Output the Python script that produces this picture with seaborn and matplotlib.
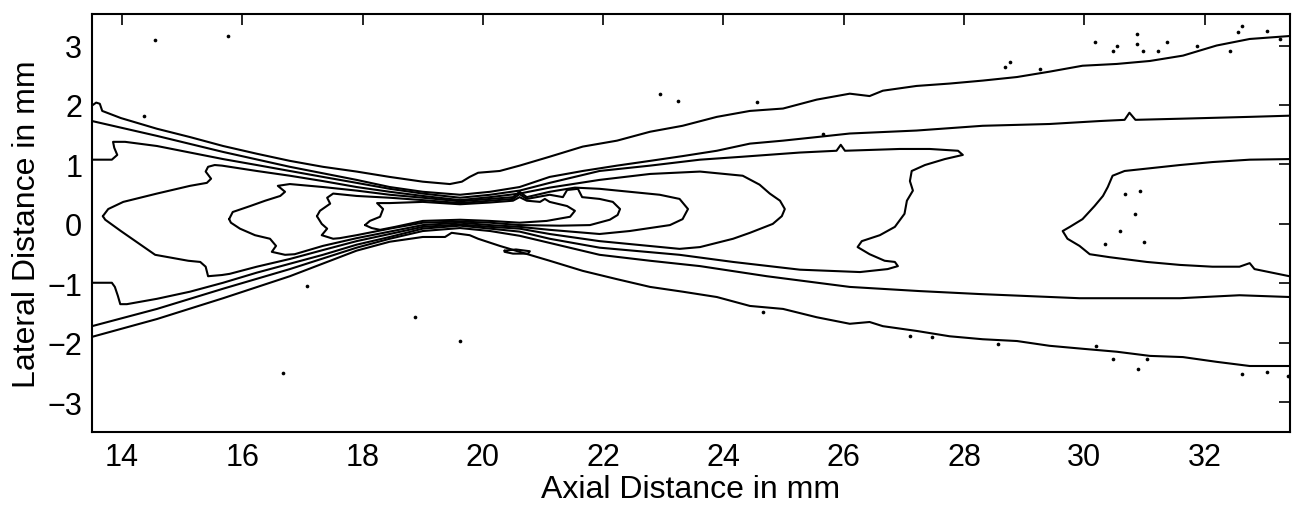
import matplotlib
matplotlib.use("Agg")
import matplotlib.pyplot as plt
import pandas as pd
import seaborn as sns

# ---------------- data (mm) ----------------
x_ticks = [14, 16, 18, 20, 22, 24, 26, 28, 30, 32]
y_ticks = [-3, -2, -1, 0, 1, 2, 3]

# level A (outermost) - two open branches
a_up_x = [13.50, 13.57, 13.63, 13.67, 13.98, 14.58, 15.13, 15.68, 16.24, 16.79,
          17.34, 17.90, 18.45, 19.00, 19.45, 19.65, 19.78, 19.92, 20.28, 20.61,
          21.11, 21.66, 22.23, 22.78, 23.32, 23.89, 24.44, 24.99, 25.55, 26.10,
          26.43, 26.65, 27.21, 27.76, 28.31, 28.88, 29.42, 29.97, 30.54, 31.09,
          31.64, 32.20, 32.75, 33.42]
a_up_y = [1.99, 2.04, 2.02, 1.90, 1.78, 1.60, 1.46, 1.31, 1.18, 1.06,
          0.96, 0.88, 0.79, 0.71, 0.67, 0.71, 0.79, 0.86, 0.89, 0.98,
          1.13, 1.30, 1.40, 1.55, 1.65, 1.80, 1.90, 1.94, 2.09, 2.19,
          2.15, 2.24, 2.32, 2.36, 2.41, 2.47, 2.56, 2.66, 2.69, 2.74,
          2.83, 3.00, 3.11, 3.16]
a_lo_x = [13.50, 14.58, 15.68, 16.79, 17.90, 18.45, 19.00, 19.37, 19.48, 19.78,
          19.92, 20.28, 20.61, 21.11, 21.66, 22.23, 22.78, 23.32, 23.89, 24.44,
          24.99, 25.55, 26.10, 26.43, 26.65, 27.21, 27.76, 28.31, 28.88, 29.42,
          29.97, 30.54, 31.09, 31.64, 32.20, 32.75, 33.42]
a_lo_y = [-1.90, -1.60, -1.25, -0.88, -0.45, -0.30, -0.22, -0.22, -0.15, -0.19,
          -0.25, -0.37, -0.47, -0.62, -0.79, -0.93, -1.06, -1.14, -1.23, -1.38,
          -1.43, -1.57, -1.68, -1.65, -1.72, -1.80, -1.89, -1.94, -1.97, -2.05,
          -2.10, -2.15, -2.22, -2.24, -2.32, -2.39, -2.39]

# level B - two open branches
b_up_x = [13.50, 14.58, 15.68, 16.79, 17.90, 18.45, 19.00, 19.62, 20.12, 20.61,
          21.11, 21.66, 22.23, 22.78, 23.32, 23.89, 24.44, 24.99, 25.55, 26.10,
          27.21, 28.31, 29.42, 30.26, 30.67, 30.75, 30.85, 31.64, 32.75, 33.42]
b_up_y = [1.73, 1.48, 1.21, 0.96, 0.74, 0.62, 0.54, 0.49, 0.54, 0.62,
          0.79, 0.89, 0.98, 1.06, 1.14, 1.23, 1.35, 1.40, 1.46, 1.52,
          1.57, 1.65, 1.68, 1.73, 1.75, 1.87, 1.75, 1.77, 1.80, 1.82]
b_lo_x = [13.50, 14.58, 15.68, 16.79, 17.90, 18.45, 19.00, 19.62, 20.12, 20.61,
          21.11, 21.94, 22.78, 23.61, 24.72, 26.10, 27.26, 28.26, 29.92, 31.59,
          32.58, 33.42]
b_lo_y = [-1.72, -1.43, -1.09, -0.76, -0.40, -0.25, -0.12, -0.07, -0.12, -0.20,
          -0.32, -0.52, -0.62, -0.71, -0.88, -1.06, -1.13, -1.18, -1.25, -1.25,
          -1.20, -1.23]

# level C - open at left edge, closes near 28 mm; plus region at the far right
c_x = [13.50, 13.83, 13.92, 13.87, 13.85, 14.05, 14.58, 15.13, 15.68, 16.24,
       16.79, 17.34, 17.90, 18.45, 19.00, 19.62, 20.12, 20.61, 21.11, 21.94,
       22.78, 23.61, 24.32, 25.27, 25.88, 25.95, 26.02, 26.93, 27.43, 27.90,
       27.98, 27.68, 27.35, 27.13, 27.10, 27.15, 27.05, 27.01, 26.85, 26.60,
       26.30, 26.23, 26.43, 26.68, 26.85, 26.90, 26.73, 26.27, 25.27, 24.16,
       23.27, 21.94, 21.11, 20.61, 20.12, 19.62, 19.00, 18.45, 17.90, 17.34,
       16.79, 16.24, 15.68, 15.13, 14.58, 14.08, 13.97, 13.93, 13.88, 13.83,
       13.50]
c_y = [1.08, 1.08, 1.16, 1.28, 1.38, 1.38, 1.31, 1.20, 1.09, 0.99,
       0.89, 0.79, 0.69, 0.59, 0.51, 0.44, 0.49, 0.56, 0.69, 0.89,
       0.98, 1.08, 1.13, 1.20, 1.23, 1.33, 1.23, 1.26, 1.26, 1.23,
       1.16, 1.09, 0.99, 0.89, 0.72, 0.56, 0.39, 0.17, -0.05, -0.19,
       -0.29, -0.39, -0.51, -0.62, -0.64, -0.71, -0.76, -0.81, -0.77, -0.64,
       -0.52, -0.40, -0.25, -0.13, -0.08, -0.03, -0.08, -0.22, -0.35, -0.52,
       -0.67, -0.82, -0.99, -1.14, -1.26, -1.35, -1.35, -1.21, -1.06, -0.99,
       -0.99]
c2_x = [33.41, 32.75, 32.13, 31.59, 31.04, 30.67, 30.47, 30.39, 30.31, 30.17,
        29.97, 29.76, 29.64, 29.72, 29.92, 30.09, 30.42, 31.04, 31.59, 32.13,
        32.58, 32.75, 32.83, 33.41]
c2_y = [1.09, 1.08, 1.04, 0.99, 0.93, 0.89, 0.81, 0.62, 0.47, 0.30,
        0.08, -0.05, -0.12, -0.25, -0.37, -0.51, -0.56, -0.64, -0.69, -0.72,
        -0.72, -0.66, -0.76, -0.88]

# level D - closed
d_x = [13.68, 13.77, 14.02, 14.58, 15.13, 15.41, 15.48, 15.39, 15.43, 15.54,
       15.66, 16.24, 16.79, 17.34, 17.90, 18.45, 19.00, 19.62, 20.12, 20.61,
       21.11, 21.94, 22.78, 23.61, 24.32, 24.60, 24.77, 24.94, 25.02, 24.97,
       24.82, 24.44, 24.16, 23.61, 23.27, 21.94, 21.11, 20.61, 20.12, 19.62,
       19.00, 18.45, 17.90, 17.34, 16.79, 16.24, 15.79, 15.66, 15.43, 15.39,
       15.30, 15.10, 14.55, 13.98, 13.72, 13.68]
d_y = [0.13, 0.25, 0.37, 0.51, 0.64, 0.69, 0.76, 0.88, 0.96, 0.99,
       0.98, 0.89, 0.81, 0.72, 0.62, 0.54, 0.47, 0.40, 0.45, 0.51,
       0.61, 0.74, 0.84, 0.88, 0.81, 0.66, 0.51, 0.39, 0.25, 0.13,
       0.00, -0.15, -0.25, -0.39, -0.42, -0.29, -0.17, -0.08, -0.05, -0.01,
       -0.05, -0.17, -0.29, -0.44, -0.59, -0.72, -0.84, -0.86, -0.88, -0.72,
       -0.64, -0.62, -0.52, -0.12, 0.07, 0.13]

# level E - closed
e_x = [15.78, 15.84, 16.13, 16.38, 16.63, 16.71, 16.59, 16.79, 17.34, 17.90,
       18.45, 19.00, 19.62, 20.12, 20.50, 20.61, 20.73, 21.11, 21.53, 21.94,
       22.44, 22.94, 23.27, 23.41, 23.32, 23.11, 22.44, 21.94, 21.11, 20.61,
       20.12, 19.62, 19.00, 18.45, 17.90, 17.34, 16.87, 16.71, 16.49, 16.56,
       16.46, 16.21, 15.96, 15.81, 15.78]
e_y = [0.08, 0.20, 0.30, 0.39, 0.47, 0.54, 0.64, 0.67, 0.62, 0.56,
       0.49, 0.44, 0.38, 0.42, 0.45, 0.54, 0.45, 0.54, 0.61, 0.59,
       0.54, 0.49, 0.42, 0.25, 0.08, -0.02, -0.12, -0.17, -0.10, -0.05,
       -0.02, 0.02, -0.02, -0.13, -0.24, -0.37, -0.51, -0.52, -0.47, -0.37,
       -0.25, -0.19, -0.08, 0.02, 0.08]

# level F - closed
f_x = [17.24, 17.29, 17.46, 17.41, 17.51, 17.90, 18.45, 19.00, 19.62, 20.12,
       20.50, 20.61, 20.73, 21.11, 21.33, 21.40, 21.58, 21.65, 21.94, 22.16,
       22.28, 22.24, 22.11, 21.78, 21.28, 20.61, 20.12, 19.62, 19.00, 18.45,
       17.90, 17.62, 17.51, 17.32, 17.41, 17.32, 17.24]
f_y = [0.13, 0.22, 0.34, 0.44, 0.51, 0.47, 0.44, 0.40, 0.35, 0.39,
       0.42, 0.50, 0.42, 0.49, 0.45, 0.57, 0.59, 0.45, 0.42, 0.37,
       0.25, 0.15, 0.07, -0.02, -0.03, -0.02, 0.02, 0.04, 0.02, -0.08,
       -0.19, -0.24, -0.25, -0.19, -0.08, 0.00, 0.13]

# level G (innermost) - closed
g_x = [18.04, 18.12, 18.29, 18.34, 18.24, 18.45, 19.00, 19.62, 20.12, 20.50,
       20.61, 20.73, 20.95, 21.03, 21.11, 21.40, 21.53, 21.45, 21.06, 20.61,
       20.12, 19.62, 19.00, 18.54, 18.29, 18.15, 18.04]
g_y = [-0.02, 0.05, 0.12, 0.25, 0.35, 0.35, 0.37, 0.33, 0.36, 0.39,
       0.45, 0.39, 0.37, 0.42, 0.37, 0.30, 0.22, 0.12, 0.05, 0.02,
       0.05, 0.07, 0.05, -0.05, -0.10, -0.07, -0.02]

# small islet below the waist
isl_x = [20.36, 20.55, 20.78, 20.75, 20.50, 20.36, 20.36]
isl_y = [-0.45, -0.43, -0.46, -0.50, -0.50, -0.47, -0.45]

# isolated specks
dot_x = [14.55, 15.76, 14.36, 17.07, 16.67, 18.87, 19.62, 22.94, 23.24, 24.55,
         25.65, 24.65, 28.68, 28.76, 29.26, 30.17, 30.47, 30.55, 30.87, 30.87,
         30.97, 31.37, 31.22, 31.87, 32.63, 33.03, 32.42, 32.55, 33.25,
         27.10, 27.46, 28.56, 30.20, 30.47, 30.89, 31.04, 32.63, 33.03, 33.38,
         30.67, 30.92, 30.84, 30.59, 30.34, 31.00]
dot_y = [3.10, 3.16, 1.82, -1.04, -2.51, -1.57, -1.97, 2.19, 2.07, 2.05,
         1.52, -1.48, 2.64, 2.73, 2.61, 3.06, 2.91, 3.00, 3.20, 3.03,
         2.91, 3.06, 2.91, 3.00, 3.33, 3.25, 2.91, 3.23, 3.11,
         -1.89, -1.90, -2.02, -2.05, -2.27, -2.44, -2.27, -2.53, -2.49, -2.56,
         0.51, 0.56, 0.17, -0.12, -0.34, -0.30]

segments = {
    "A_upper": (a_up_x, a_up_y), "A_lower": (a_lo_x, a_lo_y),
    "B_upper": (b_up_x, b_up_y), "B_lower": (b_lo_x, b_lo_y),
    "C": (c_x, c_y), "C_right": (c2_x, c2_y),
    "D": (d_x, d_y), "E": (e_x, e_y), "F": (f_x, f_y), "G": (g_x, g_y),
    "islet": (isl_x, isl_y),
}
rows = []
for name, (xs, ys) in segments.items():
    for i, (xv, yv) in enumerate(zip(xs, ys)):
        rows.append((name, i, xv, yv))
df = pd.DataFrame(rows, columns=["seg", "order", "x", "y"])
dots = pd.DataFrame({"x": dot_x, "y": dot_y})

# ---------------- drawing ----------------
sns.set_theme(style="white")
plt.rcParams["font.family"] = ["Liberation Sans", "DejaVu Sans"]
plt.rcParams["text.color"] = "black"
plt.rcParams["axes.labelcolor"] = "black"
plt.rcParams["xtick.color"] = "black"
plt.rcParams["ytick.color"] = "black"

fig = plt.figure(figsize=(13.04, 5.10), dpi=100)
ax = fig.add_axes([92 / 1304, 1 - 433 / 510, (1290 - 92) / 1304, (433 - 15) / 510])

sns.lineplot(data=df, x="x", y="y", units="seg", estimator=None, sort=False,
             color="black", linewidth=1.5, ax=ax, legend=False)
sns.scatterplot(data=dots, x="x", y="y", color="black", s=7, linewidth=0,
                ax=ax, legend=False)

ax.set_xlim(13.5, 33.42)
ax.set_ylim(-3.5, 3.53)
ax.set_xticks(x_ticks)
ax.set_yticks(y_ticks)
ax.tick_params(direction="in", top=True, right=True, length=8, width=1.2,
               labelsize=22, pad=7, colors="black", labelcolor="black")
for sp in ax.spines.values():
    sp.set_visible(True)
    sp.set_color("black")
    sp.set_linewidth(1.5)

ax.set_xlabel("Axial Distance in mm", fontsize=23, labelpad=2, color="black")
ax.set_ylabel("Lateral Distance in mm", fontsize=23, labelpad=4, color="black")

fig.savefig("out.png", dpi=100, facecolor="white")
